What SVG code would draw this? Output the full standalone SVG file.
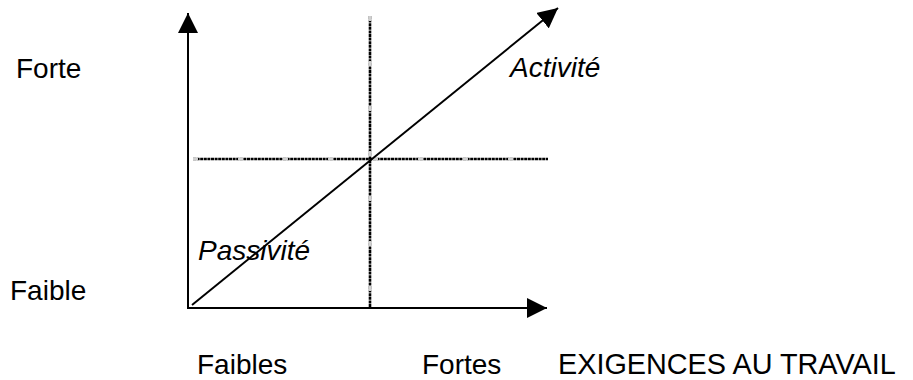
<svg xmlns="http://www.w3.org/2000/svg" width="913" height="380" viewBox="0 0 913 380">
<style>
.t{font-family:"Liberation Sans",Arial,sans-serif;font-size:28px;fill:#000}
.i{font-style:italic}
.ax{stroke:#000;stroke-width:2;fill:none}
.db{stroke:#000;stroke-width:2.6;stroke-dasharray:3 0.6;fill:none}
.gp{stroke:#cfcfcf;stroke-width:3;stroke-dasharray:5 40;fill:none}
</style>
<defs>
<marker id="ah" viewBox="0 0 20 20" refX="20" refY="10" markerWidth="20" markerHeight="20" markerUnits="userSpaceOnUse" orient="auto">
<path d="M0,0 L20,10 L0,20 Z" fill="#000"/>
</marker>
</defs>
<rect width="913" height="380" fill="#fff"/>
<g id="grid">
<line class="db" x1="370" y1="16" x2="370" y2="307"/>
<line class="gp" x1="370" y1="16" x2="370" y2="307"/>
<line class="db" x1="193" y1="159" x2="548" y2="159"/>
<line class="gp" x1="193" y1="159" x2="548" y2="159"/>
</g>
<g id="connectors">
<line class="ax" x1="188" y1="308" x2="188" y2="13" marker-end="url(#ah)"/>
<line class="ax" x1="187" y1="308" x2="547" y2="308" marker-end="url(#ah)"/>
<line class="ax" x1="192" y1="305" x2="558" y2="8" marker-end="url(#ah)"/>
</g>
<g id="labels">
<text class="t" x="16" y="78">Forte</text>
<text class="t" x="10" y="300">Faible</text>
<text class="t i" x="510" y="77">Activité</text>
<text class="t i" x="198" y="260">Passivité</text>
<text class="t" x="197" y="374">Faibles</text>
<text class="t" x="422" y="374">Fortes</text>
<text class="t" x="558" y="374" style="font-size:28.8px">EXIGENCES AU TRAVAIL</text>
</g>
</svg>
